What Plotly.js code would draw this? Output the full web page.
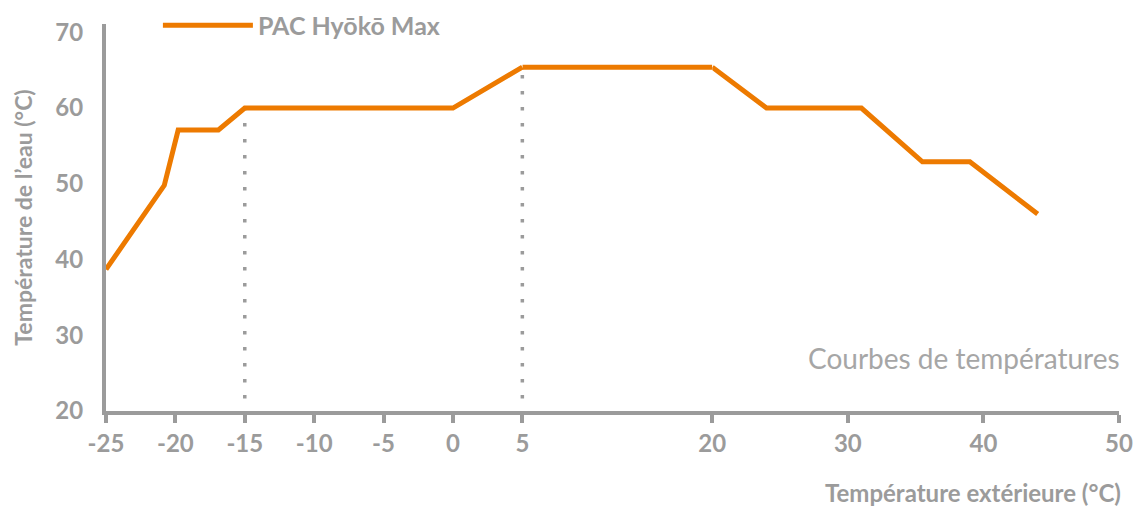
<!DOCTYPE html>
<html>
<head>
<meta charset="utf-8">
<script src="https://cdn.plot.ly/plotly-3.0.1.min.js"></script>
<style>html,body{margin:0;padding:0;background:#fff;}#chart{width:1136px;height:506px;}</style>
</head>
<body>
<div id="chart"></div>
<script>
// ---- data ----
const seriesName = "PAC Hyōkō Max";
const tempExt = [-25, -20.8, -19.8, -16.9, -15, 0, 5, 20, 24, 31, 35.5, 39, 44];
const tempEau = [38.7, 49.8, 57.1, 57.1, 60, 60, 65.4, 65.4, 60, 60, 52.9, 52.9, 46];
const guideTemps = [-15, 5];
const xTicksLeft = [-25, -20, -15, -10, -5, 0, 5];
const xTicksRight = [20, 30, 40, 50];
const yTicks = [20, 30, 40, 50, 60, 70];
const xTitle = "Température extérieure (°C)";
const yTitle = "Température de l’eau (°C)";
const noteText = "Courbes de températures";

// ---- style ----
const ORANGE = "#ED7A00";
const GREY = "#9B9B9B";
const FONT = "Lato, 'Open Sans', sans-serif";

// piecewise x scale: three linear axis segments
const seg = [[-25, 5], [5, 20], [20, 50]];
const bounds = [0, 0.4110, 0.5985, 1];
const extra1 = 0.6; // extend first segment slightly so the guide at 5 is not clipped
const d1ext = bounds[1] + (bounds[1] - bounds[0]) * extra1 / (seg[0][1] - seg[0][0]);

function pick(lo, hi) {
  const xs = [], ys = [];
  tempExt.forEach((t, i) => { if (t >= lo && t <= hi) { xs.push(t); ys.push(tempEau[i]); } });
  return {xs, ys};
}

const traces = [];
// dotted guides
guideTemps.forEach(t => {
  const v = tempEau[tempExt.indexOf(t)];
  traces.push({
    type: "scatter", mode: "lines", x: [t, t], y: [20, v], xaxis: "x", yaxis: "y",
    line: {color: GREY, width: 3.5, dash: "0px,12.5px,3.5px,0px"},
    showlegend: false, hoverinfo: "skip"
  });
});
const axesIds = ["x", "x2", "x3"];
seg.forEach((s, k) => {
  const p = pick(s[0], s[1]);
  traces.push({
    type: "scatter", mode: "lines", x: p.xs, y: p.ys, xaxis: axesIds[k], yaxis: "y",
    name: seriesName, legendgroup: "main", showlegend: k === 0,
    line: {color: ORANGE, width: 5, shape: "linear"}
  });
});

const TICKFONT = {family: FONT, size: 24, color: GREY, weight: "bold"};
const axBase = {
  showgrid: false, zeroline: false, showline: true, linecolor: GREY, linewidth: 4,
  ticks: "outside", ticklen: 8, tickwidth: 4, tickcolor: GREY,
  tickfont: TICKFONT, tickmode: "array", anchor: "y", fixedrange: true
};

const layout = {
  width: 1136, height: 506,
  margin: {l: 106, r: 17, t: 24, b: 95, autoexpand: false},
  paper_bgcolor: "#fff", plot_bgcolor: "rgba(0,0,0,0)",
  font: {family: FONT, color: GREY},
  showlegend: true,
  legend: {
    xref: "container", yref: "container", x: 0.139, y: 1 - 25.5 / 506, xanchor: "left", yanchor: "middle",
    orientation: "h", font: {family: FONT, size: 25, color: GREY, weight: "bold"},
    itemwidth: 90, bgcolor: "rgba(0,0,0,0)"
  },
  xaxis: Object.assign({}, axBase, {domain: [bounds[0], d1ext], range: [seg[0][0], seg[0][1] + extra1], tickvals: xTicksLeft, ticktext: xTicksLeft.map(String)}),
  xaxis2: Object.assign({}, axBase, {domain: [bounds[1], bounds[2]], range: seg[1], tickvals: [], ticks: ""}),
  xaxis3: Object.assign({}, axBase, {domain: [bounds[2], bounds[3]], range: seg[2], tickvals: xTicksRight, ticktext: xTicksRight.map(String)}),
  yaxis: {
    range: [20, 71.1], showgrid: false, zeroline: false, showline: true, linecolor: GREY, linewidth: 4,
    ticks: "", tickmode: "array", tickvals: yTicks, ticklabelstandoff: 14,
    tickfont: TICKFONT, anchor: "x", fixedrange: true,
    title: {text: yTitle, standoff: 17, font: {family: FONT, size: 23, color: GREY, weight: "bold"}}
  },
  annotations: [
    {text: xTitle, xref: "paper", yref: "paper", x: 1, y: 0, xanchor: "right", yanchor: "middle",
     yshift: -81, xshift: 4, showarrow: false, font: {family: FONT, size: 24, color: GREY, weight: "bold"}},
    {text: noteText, xref: "paper", yref: "paper", x: 1, y: 0, xanchor: "right", yanchor: "middle",
     yshift: 53, xshift: 3, showarrow: false, font: {family: FONT, size: 28, color: "#A6A6A6"}}
  ]
};

Plotly.newPlot("chart", traces, layout, {displayModeBar: false, staticPlot: true});
</script>
</body>
</html>
